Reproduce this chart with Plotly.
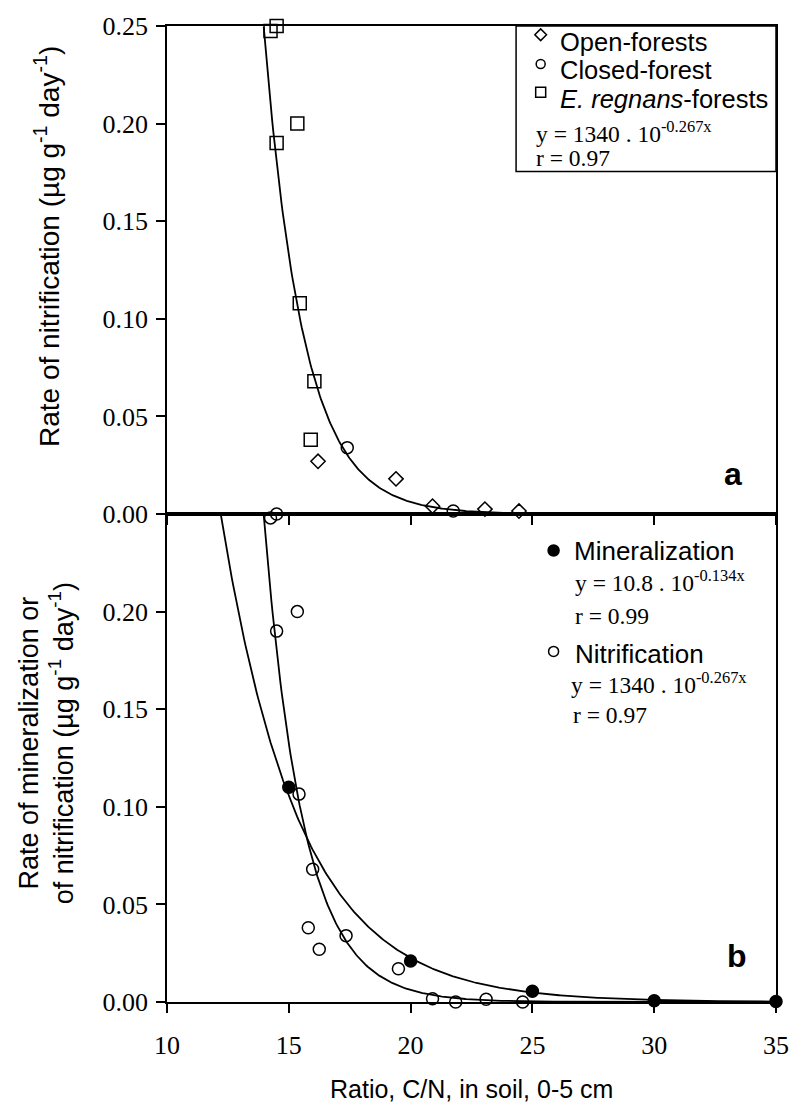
import numpy as np
import plotly.graph_objects as go
from plotly.subplots import make_subplots

# ---------------- data ----------------
# Panel a : rate of nitrification by forest type
open_x = [16.2, 19.4, 20.9, 23.05, 24.45]
open_y = [0.027, 0.018, 0.004, 0.0025, 0.0015]
closed_x = [17.4, 21.75]
closed_y = [0.034, 0.0015]
regnans_x = [14.25, 14.5, 14.5, 15.35, 15.45, 16.05, 15.9]
regnans_y = [0.2475, 0.25, 0.19, 0.20, 0.108, 0.068, 0.038]

# Panel b : mineralization and nitrification
min_x = [15.0, 20.0, 25.0, 30.0, 35.0]
min_y = [0.11, 0.021, 0.0055, 0.0006, 0.0003]
nit_x = [14.25, 14.5, 14.5, 15.35, 15.42, 15.98, 15.8, 16.25, 17.35, 19.5, 20.9, 21.85, 23.1, 24.6]
nit_y = [0.248, 0.25, 0.19, 0.20, 0.1065, 0.068, 0.038, 0.027, 0.034, 0.017, 0.0017, 0.0, 0.0014, 0.0]

# fitted regressions printed on the chart: y = A * 10^(K x)
NIT_A, NIT_K = 1340.0, -0.267
MIN_A, MIN_K = 10.8, -0.134

x_ticks = [10, 15, 20, 25, 30, 35]
y_ticks_a = [0, 0.05, 0.10, 0.15, 0.20, 0.25]
y_ticks_b = [0, 0.05, 0.10, 0.15, 0.20]

# ---------------- figure ----------------
SERIF = "Liberation Serif"
SANS = "Liberation Sans"

fig = make_subplots(rows=2, cols=1, shared_xaxes=True, vertical_spacing=0)

xa = np.linspace(13.97, 33.5, 400)
fig.add_trace(go.Scatter(x=xa, y=NIT_A * 10 ** (NIT_K * xa), mode="lines",
                         line=dict(color="black", width=1.8)), row=1, col=1)
xb_n = np.linspace(13.97, 35, 400)
fig.add_trace(go.Scatter(x=xb_n, y=NIT_A * 10 ** (NIT_K * xb_n), mode="lines",
                         line=dict(color="black", width=1.8)), row=2, col=1)
xb_m = np.linspace(12.2, 35, 400)
fig.add_trace(go.Scatter(x=xb_m, y=MIN_A * 10 ** (MIN_K * xb_m), mode="lines",
                         line=dict(color="black", width=1.8)), row=2, col=1)

def pts(x, y, sym, size, row):
    fig.add_trace(go.Scatter(x=x, y=y, mode="markers", cliponaxis=False,
                             marker=dict(symbol=sym, size=size, color="black",
                                         line=dict(width=1.5, color="black"))),
                  row=row, col=1)

pts(open_x, open_y, "diamond-open", 11, 1)
pts(closed_x, closed_y, "circle-open", 12, 1)
pts(regnans_x, regnans_y, "square-open", 13, 1)
pts(nit_x, nit_y, "circle-open", 12, 2)
pts(min_x, min_y, "circle", 12, 2)

# legend symbols (panel a)
pts([25.34], [0.2455], "diamond-open", 9, 1)
pts([25.34], [0.2305], "circle-open", 9, 1)
pts([25.34], [0.2160], "square-open", 10, 1)
# legend symbols (panel b)
pts([25.87], [0.2313], "circle", 11, 2)
pts([25.87], [0.1796], "circle-open", 10, 2)

axis_common = dict(showline=True, linecolor="black", linewidth=1.5, mirror=True,
                   ticks="outside", ticklen=9, tickwidth=1.5, tickcolor="black",
                   showgrid=False, zeroline=False,
                   tickfont=dict(family=SERIF, size=26, color="black"))

fig.update_xaxes(range=[10, 35], tickvals=x_ticks, **axis_common)
fig.update_xaxes(showticklabels=False, row=1, col=1)
fig.update_xaxes(ticklabelstandoff=10, row=2, col=1)
fig.update_yaxes(range=[0, 0.25], tickformat=".2f", ticklabelstandoff=3, **axis_common)
fig.update_yaxes(tickvals=y_ticks_a, row=1, col=1)
fig.update_yaxes(tickvals=y_ticks_b, row=2, col=1)

# legend box of panel a
fig.add_shape(type="rect", xref="x", yref="y", x0=24.33, x1=35, y0=0.1755, y1=0.25,
              line=dict(color="black", width=1.5))

ann = []
def txt(x, y, t, xr, yr, font, size, anchor="left", angle=0):
    ann.append(dict(x=x, y=y, xref=xr, yref=yr, text=t, showarrow=False,
                    xanchor=anchor, yanchor="middle", textangle=angle,
                    font=dict(family=font, size=size, color="black")))

txt(26.07, 0.2419, "Open-forests", "x", "y", SANS, 25.5)
txt(26.07, 0.2275, "Closed-forest", "x", "y", SANS, 25.5)
txt(26.07, 0.2128, "<i>E. regnans</i>-forests", "x", "y", SANS, 25.5)
txt(25.06, 0.1958, "y = 1340 . 10<sup>-0.267x</sup>", "x", "y", SERIF, 23.5)
txt(25.06, 0.1822, "r = 0.97", "x", "y", SERIF, 23.5)

txt(26.64, 0.2310, "Mineralization", "x2", "y2", SANS, 26)
txt(26.68, 0.2155, "y = 10.8 . 10<sup>-0.134x</sup>", "x2", "y2", SERIF, 23.5)
txt(26.68, 0.1975, "r = 0.99", "x2", "y2", SERIF, 23.5)
txt(26.68, 0.1785, "Nitrification", "x2", "y2", SANS, 26)
txt(26.50, 0.1635, "y = 1340 . 10<sup>-0.267x</sup>", "x2", "y2", SERIF, 23.5)
txt(26.60, 0.1470, "r = 0.97", "x2", "y2", SERIF, 23.5)

txt(33.25, 0.0205, "<b>a</b>", "x", "y", SANS, 32, anchor="center")
txt(33.40, 0.0236, "<b>b</b>", "x2", "y2", SANS, 32, anchor="center")

# axis titles
txt(-0.198, 0.774, "Rate of nitrification (µg g<sup>-1</sup> day<sup>-1</sup>)",
    "paper", "paper", SANS, 28, anchor="center", angle=-90)
txt(-0.198, 0.2655, "Rate of mineralization or<br>of nitrification (µg g<sup>-1</sup> day<sup>-1</sup>)",
    "paper", "paper", SANS, 27, anchor="center", angle=-90)
txt(0.5, -0.0892, "Ratio, C/N, in soil, 0-5 cm", "paper", "paper", SANS, 25, anchor="center")

fig.update_layout(width=801, height=1108, margin=dict(l=167, r=18, t=15, b=106),
                  plot_bgcolor="white", paper_bgcolor="white", showlegend=False,
                  annotations=ann)

fig.write_html("out.html")
